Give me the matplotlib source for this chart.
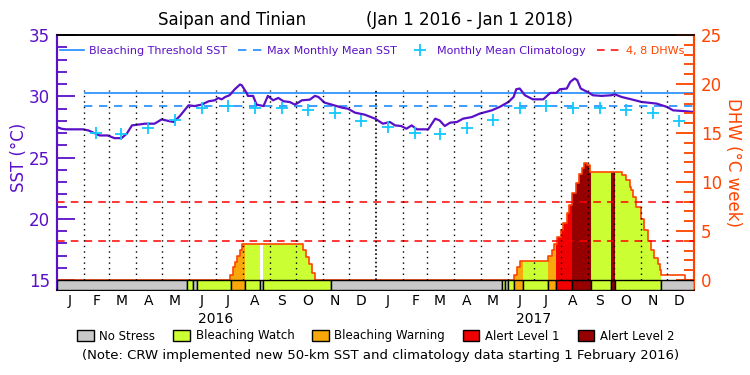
import numpy as np
import matplotlib
matplotlib.use('Agg')
import matplotlib.pyplot as plt
from matplotlib.lines import Line2D
from matplotlib.patches import Patch
from matplotlib.ticker import MultipleLocator

# days counted from Jan 1 2016
sst_days = [0, 5, 10, 30, 36, 42, 49, 58, 66, 74, 80, 86, 101, 112, 120, 130, 134, 141,
            151, 158, 166, 174, 181, 185, 189, 193, 198, 204, 210, 212, 218, 219, 225,
            229, 237, 242, 248, 254, 260, 267, 273, 277, 281, 290, 296, 300, 307, 315,
            327, 334, 342, 353, 365, 374, 382, 388, 395, 401, 407, 413, 426, 434, 439,
            445, 451, 459, 466, 476, 485, 499, 508, 518, 524, 527, 531, 537, 546, 558,
            566, 573, 577, 585, 589, 594, 597, 601, 610, 615, 625, 636, 640, 648, 659,
            671, 678, 688, 700, 707, 717, 730]
sst_vals = [27.49, 27.35, 27.3, 27.3, 27.21, 27.02, 26.8, 26.8, 26.58, 26.58, 26.94, 27.62,
            27.76, 27.76, 28.11, 27.95, 27.9, 28.39, 29.26, 29.2, 29.32, 29.59, 29.67,
            29.86, 29.75, 29.94, 30.08, 30.57, 30.96, 30.9, 30.22, 30.03, 30.03, 29.32,
            29.2, 30.03, 29.67, 29.86, 29.59, 29.53, 29.32, 29.48, 29.67, 29.72, 30.03,
            29.94, 29.48, 29.32, 29.07, 28.98, 28.66, 28.5, 28.17, 27.76, 27.9, 27.62,
            27.57, 27.35, 27.62, 27.3, 27.3, 28.17, 28.03, 27.57, 27.84, 27.9, 28.17,
            28.3, 28.58, 28.85, 29.13, 29.53, 29.94, 30.57, 30.63, 30.08, 29.75, 29.75,
            30.27, 30.27, 30.57, 30.63, 31.17, 31.45, 31.31, 30.63, 30.3, 30.08, 30.03,
            30.08, 30.16, 29.94, 29.75, 29.53, 29.48, 29.4, 29.13, 28.85, 28.8, 28.72]

clim_vals = [27.48, 26.97, 26.9, 27.43, 28.1, 29.07, 29.24, 29.07, 29.07, 28.88, 28.66, 27.98]
mmm = 29.23
threshold = 30.23
new_data_start = 31

dhw_days = [0, 198.5, 201.6, 204.2, 206.9, 210, 212.3, 282.6, 285.7, 289.5, 293, 296,
            524.8, 527.5, 531.3, 563.7, 567.6, 570.3, 573.4, 578, 581, 584.9, 587.9, 591.3,
            595.5, 599, 602, 605, 608.5, 611.6, 648, 652.5, 657.5, 658.3, 661.3, 665,
            669.8, 674, 678.5, 681.6, 685.4, 689.3, 691.9, 692.7, 720.6, 731]
dhw_vals = [0, 0.51, 1.29, 1.87, 2.48, 3.06, 3.64, 3.06, 2.38, 1.63, 0.68, 0,
            0.51, 1.36, 1.97, 2.48, 3.06, 3.67, 4.35, 5.1, 5.78, 6.8, 7.65, 8.84,
            9.86, 10.8, 11.4, 11.97, 11.73, 11.05, 10.7, 10.2, 9.5, 9.18, 8.5, 7.48,
            6.19, 5.1, 4.01, 3.06, 2.21, 1.63, 1.02, 0.47, 0, 0]
dhw_levels = [4, 8]

# status: 0 no stress, 1 watch, 2 warning, 3 alert 1, 4 alert 2
status_edges = [0, 149.5, 156.4, 160.3, 199.3, 216, 233, 236.7, 314, 510.3, 514, 517,
                524.7, 535, 563.7, 572.6, 591.3, 612.4, 635.7, 640.6, 692.7, 731]
status_codes = [0, 1, 0, 1, 2, 1, 0, 1, 0, 1, 0, 1, 2, 1, 2, 3, 4, 1, 4, 1, 0]
status_labels = ['No Stress', 'Bleaching Watch', 'Bleaching Warning', 'Alert Level 1', 'Alert Level 2']
status_colors = ['#c8c8c8', '#ccff33', '#f9a80c', '#f00000', '#960000']

month_labels = list('JFMAMJJASOND') * 2
year_labels = ['2016', '2017']

purple = '#5a10c8'
blue = '#1e8cff'
cyan = '#10c8ff'
orange = '#ff4400'

t0 = np.datetime64('2016-01-01')
month_starts = (np.arange('2016-01', '2018-02', dtype='datetime64[M]').astype('datetime64[D]') - t0).astype(int)
mid_months = month_starts[:-1] + 14
july_first = month_starts[[6, 18]]

fig = plt.figure(figsize=(7.5, 3.75), dpi=100)
ax = fig.add_axes([57 / 750, 1 - 290 / 375, 637 / 750, 255 / 375])
ax2 = ax.twinx()

ax.set_xlim(0, 731)
ax.set_ylim(14.184, 35)
ax2.set_ylim(-1.0204, 25)

# SST side
ax.plot(sst_days, sst_vals, color=purple, lw=1.6, zorder=3)
ax.hlines(threshold, new_data_start, 731, color=blue, lw=1.2)
ax.hlines(mmm, new_data_start, 731, color=blue, lw=1.2, linestyles=(0, (5, 4)))
ax.plot(mid_months[1:], np.tile(clim_vals, 2)[1:], '+', color=cyan, ms=9, mew=1.3, zorder=4)

# DHW fills by status
dd = np.array(dhw_days)
dv = np.array(dhw_vals)
def dhw_at(x):
    return dv[np.searchsorted(dd, x, side='right') - 1]

for a, b, c in zip(status_edges[:-1], status_edges[1:], status_codes):
    if c == 0:
        continue
    xs = np.concatenate([[a], dd[(dd > a) & (dd < b)], [b]])
    ax2.fill_between(xs, 0, dhw_at(xs), step='post', color=status_colors[c], lw=0, zorder=1)
ax2.step(dhw_days, dhw_vals, where='post', color=orange, lw=1.2, zorder=2)

for lev in dhw_levels:
    ax2.axhline(lev, color='#ff0000', lw=1.1, dashes=(5, 4), zorder=3)

# month separators, year boundary a bit denser
seps = month_starts[1:-1]
ax2.vlines(seps[seps != 366], 0, 19.4, color='black', lw=1, linestyles=(0, (1, 3)), zorder=3)
ax2.vlines(seps[seps == 366], 0, 19.4, color='black', lw=1.2, linestyles=(0, (1, 1.5)), zorder=3)

# status bar
ax2.bar(status_edges[:-1], 1.0204, width=np.diff(status_edges), bottom=-1.0204, align='edge',
        color=[status_colors[c] for c in status_codes], edgecolor='black', lw=1, zorder=5)

# axes styling
ax.set_xticks(mid_months)
ax.set_xticklabels(month_labels, fontsize=10)
ax.tick_params(axis='x', length=0, pad=3)
for x, yl in zip(july_first, year_labels):
    ax.text(x, -0.085, yl, transform=ax.get_xaxis_transform(), ha='center', va='top', fontsize=10)

ax.set_yticks([15, 20, 25, 30, 35])
ax.yaxis.set_minor_locator(MultipleLocator(1))
ax.tick_params(axis='y', which='major', direction='in', length=13, width=1.3, color=purple,
               labelcolor=purple, labelsize=12, pad=5)
ax.tick_params(axis='y', which='minor', direction='in', length=7, width=1.3, color=purple)
ax.set_ylabel('SST (°C)', color=purple, fontsize=12)
ax.yaxis.set_label_coords(-0.045, 0.52)

ax2.set_yticks([0, 5, 10, 15, 20, 25])
ax2.yaxis.set_minor_locator(MultipleLocator(1))
ax2.tick_params(axis='y', which='major', direction='in', length=13, width=1.3, color=orange,
                labelcolor=orange, labelsize=12, pad=5)
ax2.tick_params(axis='y', which='minor', direction='in', length=7, width=1.3, color=orange)
ax2.set_ylabel('DHW (°C week)', color=orange, fontsize=12, rotation=270, labelpad=14)

for a in (ax, ax2):
    a.spines['left'].set_color(purple)
    a.spines['left'].set_linewidth(1.5)
    a.spines['right'].set_color(orange)
    a.spines['right'].set_linewidth(1.5)
    a.spines['top'].set_linewidth(1.2)
    a.spines['bottom'].set_linewidth(1.2)

handles = [Line2D([], [], color=blue, lw=1.2),
           Line2D([], [], color=blue, lw=1.2, dashes=(5, 4)),
           Line2D([], [], color=cyan, marker='+', ls='', ms=9, mew=1.3),
           Line2D([], [], color='#ff0000', lw=1.1, dashes=(5, 4))]
leg = ax2.legend(handles, ['Bleaching Threshold SST', 'Max Monthly Mean SST',
                           'Monthly Mean Climatology', '4, 8 DHWs'],
                 loc='center', bbox_to_anchor=(0.495, 0.937), ncol=4, frameon=False,
                 fontsize=8, handlelength=2.1, handletextpad=0.5, columnspacing=1.0,
                 borderpad=0, borderaxespad=0)
for t, c in zip(leg.get_texts(), [purple, purple, purple, orange]):
    t.set_color(c)

fig.text(232 / 750, 1 - 20 / 375, 'Saipan and Tinian', ha='center', va='center', fontsize=12)
fig.text(469 / 750, 1 - 20 / 375, '(Jan 1 2016 - Jan 1 2018)', ha='center', va='center', fontsize=12)

fig.legend([Patch(facecolor=c, edgecolor='black', lw=1) for c in status_colors], status_labels,
           loc='center', bbox_to_anchor=(0.501, 1 - 336 / 375), ncol=5, frameon=False,
           fontsize=8.5, handlelength=1.4, handleheight=0.95, handletextpad=0.5, columnspacing=1.5,
           borderpad=0, borderaxespad=0)
fig.text(0.507, 1 - 355 / 375,
         '(Note: CRW implemented new 50-km SST and climatology data starting 1 February 2016)',
         ha='center', va='center', fontsize=9.5)

fig.savefig('out.png', dpi=100)
